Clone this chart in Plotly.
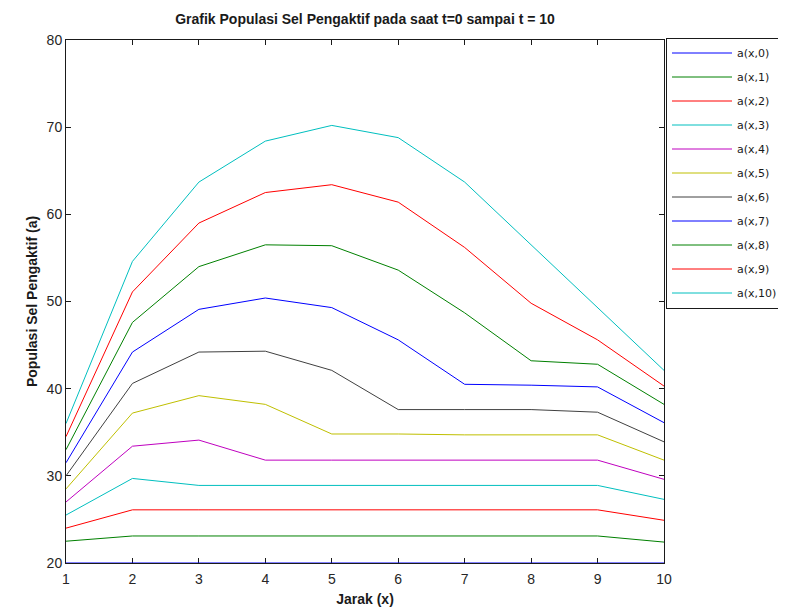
import plotly.graph_objects as go

x_jarak = [1, 2, 3, 4, 5, 6, 7, 8, 9, 10]

a_t0 = [20, 20, 20, 20, 20, 20, 20, 20, 20, 20]
a_t1 = [22.5, 23.1, 23.1, 23.1, 23.1, 23.1, 23.1, 23.1, 23.1, 22.4]
a_t2 = [24.0, 26.1, 26.1, 26.1, 26.1, 26.1, 26.1, 26.1, 26.1, 24.9]
a_t3 = [25.5, 29.7, 28.9, 28.9, 28.9, 28.9, 28.9, 28.9, 28.9, 27.3]
a_t4 = [27.0, 33.4, 34.1, 31.8, 31.8, 31.8, 31.8, 31.8, 31.8, 29.6]
a_t5 = [28.5, 37.2, 39.2, 38.2, 34.8, 34.8, 34.7, 34.7, 34.7, 31.8]
a_t6 = [30.0, 40.6, 44.2, 44.3, 42.1, 37.6, 37.6, 37.6, 37.3, 33.9]
a_t7 = [31.5, 44.2, 49.1, 50.4, 49.3, 45.6, 40.5, 40.4, 40.2, 36.1]
a_t8 = [33.0, 47.6, 54.0, 56.5, 56.4, 53.6, 48.7, 43.2, 42.8, 38.2]
a_t9 = [34.5, 51.1, 59.0, 62.5, 63.4, 61.4, 56.2, 49.8, 45.6, 40.3]
a_t10 = [36.0, 54.6, 63.7, 68.4, 70.2, 68.8, 63.7, 56.5, 49.4, 42.1]

series = [a_t0, a_t1, a_t2, a_t3, a_t4, a_t5, a_t6, a_t7, a_t8, a_t9, a_t10]
names = ["a(x,%d)" % t for t in range(11)]
colors = ["#0000ff", "#008000", "#ff0000", "#00bfbf", "#bf00bf", "#bfbf00",
          "#404040", "#0000ff", "#008000", "#ff0000", "#00bfbf"]

x_ticks = [1, 2, 3, 4, 5, 6, 7, 8, 9, 10]
y_ticks = [20, 30, 40, 50, 60, 70, 80]

fig = go.Figure()
for i, (vals, nm, col) in enumerate(zip(series, names, colors)):
    fig.add_trace(go.Scatter(
        x=x_jarak, y=vals, mode="lines", name=nm,
        line=dict(color=col, width=1),
        legendgroup="g%d" % i,
        cliponaxis=False,
    ))

base_font = "Liberation Sans, Arial, sans-serif"
axis_font = dict(family=base_font, size=14, color="#262626")

# page is offset by the default 8px body margin
W, H = 778, 601
L, T = 58, 32
PW, PH = 598, 523

fig.update_layout(
    width=W, height=H,
    margin=dict(l=L, r=W - L - PW, t=T, b=H - T - PH, autoexpand=False),
    paper_bgcolor="white", plot_bgcolor="white",
    title=dict(
        text="<b>Grafik Populasi Sel Pengaktif pada saat t=0 sampai t = 10</b>",
        x=(L + PW / 2) / W, xanchor="center",
        y=1 - 11 / H, yanchor="middle",
        font=dict(family=base_font, size=14, color="#1a1a1a"),
    ),
    xaxis=dict(
        range=[1, 10], tickvals=x_ticks, ticks="inside", ticklen=5,
        tickcolor="#1a1a1a", showline=True, linecolor="#1a1a1a", linewidth=1,
        mirror="ticks", showgrid=False, zeroline=False, tickfont=axis_font,
        layer="below traces", automargin=True, ticklabelstandoff=3,
        title=dict(text="<b>Jarak (x)</b>", font=dict(family=base_font, size=14, color="#1a1a1a"), standoff=8),
    ),
    yaxis=dict(
        range=[20, 80], tickvals=y_ticks, ticks="inside", ticklen=5,
        tickcolor="#1a1a1a", showline=True, linecolor="#1a1a1a", linewidth=1,
        mirror="ticks", showgrid=False, zeroline=False, tickfont=axis_font,
        layer="below traces", automargin=True,
        title=dict(text="<b>Populasi Sel Pengaktif (a)</b>", font=dict(family=base_font, size=14, color="#1a1a1a"), standoff=5),
    ),
    legend=dict(
        x=1 + 2 / PW, xanchor="left", y=1 + 2.5 / PH, yanchor="top",
        bordercolor="#1a1a1a", borderwidth=1, bgcolor="white",
        font=dict(family="DejaVu Sans, sans-serif", size=11, color="#1a1a1a"),
        tracegroupgap=5, traceorder="grouped", itemwidth=60,
    ),
    showlegend=True,
)

fig.write_html("out.html")
